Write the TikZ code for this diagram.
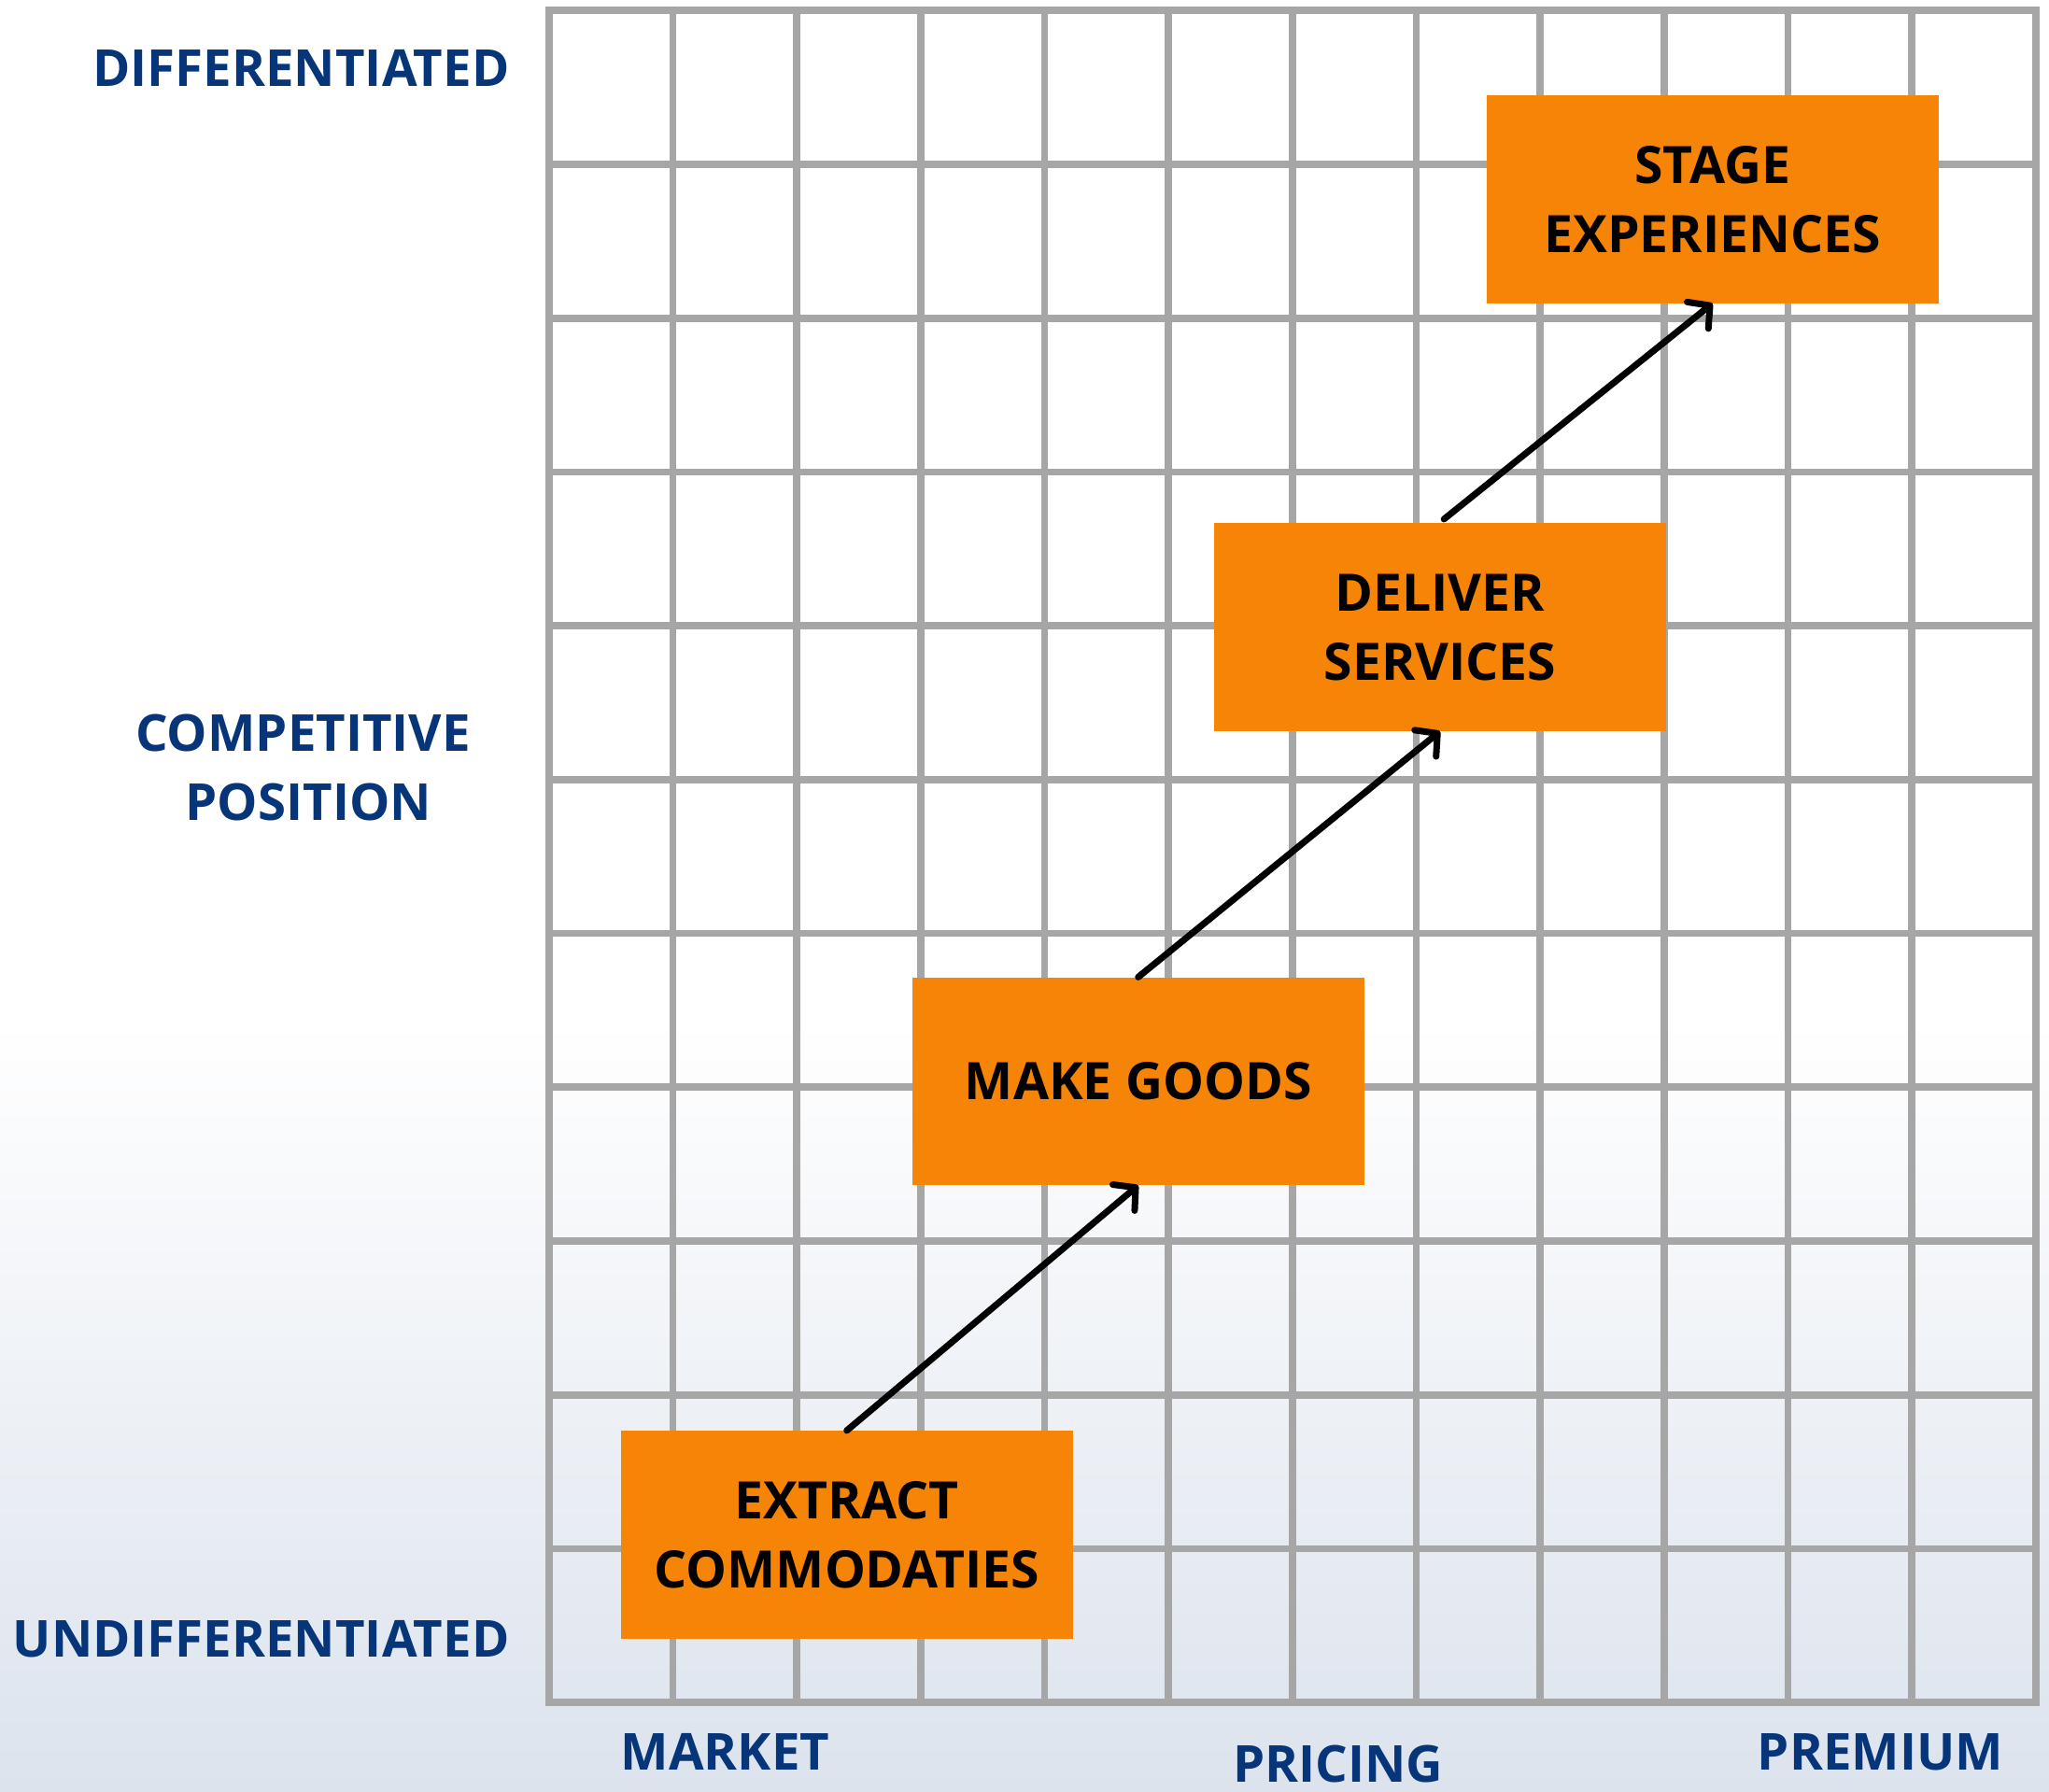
\documentclass[tikz,border=0pt]{standalone}
\usepackage{fontspec}
\setmainfont{Open Sans}
\usetikzlibrary{arrows.meta}
\definecolor{boxorange}{HTML}{F68507}
\definecolor{labblue}{HTML}{06357A}
\definecolor{gridgrey}{HTML}{A6A6A6}
\definecolor{bgbottom}{HTML}{DCE3ED}
\begin{document}
\begin{tikzpicture}[x=1pt,y=-1pt,
  stagebox/.style={fill=boxorange, draw=none, minimum width=346pt, minimum height=159pt,
    align=center, inner sep=0pt, font=\fontsize{39.5}{53}\selectfont\bfseries, text=black},
  axislabel/.style={text=labblue, font=\fontsize{39}{53}\selectfont\bfseries, inner sep=0pt, align=center},
  flow/.style={line width=5pt, line cap=round, line join=round,
    -{Straight Barb[length=12pt,width=26pt,line width=5pt,round]}},
  gridline/.style={gridgrey, line width=5.5pt}]
\useasboundingbox (0,0) rectangle (1568,1371);
\fill[white] (0,0) rectangle (1568,781);
\shade[top color=white, bottom color=bgbottom, draw=none] (0,780) rectangle (1568,1371);
% grid
\foreach \i in {0,...,12} {
  \draw[gridline] ({420+\i*94.833},8) -- ({420+\i*94.833},1303);
}
\foreach \j in {0,...,11} {
  \draw[gridline] (417.25,{8+\j*117.727}) -- (1560.75,{8+\j*117.727});
}
% boxes
\node[stagebox] (stage) at (1310.5,152.5) {\raisebox{-2pt}{STAGE}\\\raisebox{-2pt}{EXPERIENCES}};
\node[stagebox] (deliver) at (1102,480) {\raisebox{-2pt}{DELIVER}\\\raisebox{-2pt}{SERVICES}};
\node[stagebox] (make) at (871,827.5) {MAKE GOODS};
\node[stagebox] (extract) at (648,1174.5) {\raisebox{-2pt}{EXTRACT}\\\raisebox{-2pt}{COMMODATIES}};
% arrows
\draw[flow] (extract.north) -- (make.south);
\draw[flow] (make.north) -- (deliver.south);
\draw[flow] ([xshift=3pt,yshift=3pt]deliver.north) -- (stage.south);
% labels
\node[axislabel, anchor=base east] (diff) at (390,66) {DIFFERENTIATED};
\node[axislabel, anchor=base] (comp) at (232,575) {COMPETITIVE};
\node[axislabel, anchor=base] (pos) at (236,628) {POSITION};
\node[axislabel, anchor=base east] (undiff) at (390,1268) {UNDIFFERENTIATED};
\node[axislabel, anchor=base] (market) at (555,1355) {MARKET};
\node[axislabel, anchor=base] (pricing) at (1024,1364) {PRICING};
\node[axislabel, anchor=base] (premium) at (1439,1355) {PREMIUM};
\end{tikzpicture}
\end{document}
